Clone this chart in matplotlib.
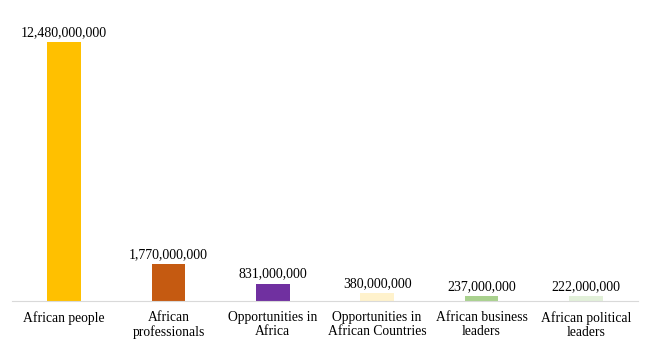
import numpy as np
import matplotlib.pyplot as plt

# chart data
categories = ['African people', 'African\nprofessionals', 'Opportunities in\nAfrica',
              'Opportunities in\nAfrican Countries', 'African business\nleaders',
              'African political\nleaders']
values = [12480000000, 1770000000, 831000000, 380000000, 237000000, 222000000]
colors = ['#FFC000', '#C55A11', '#7030A0', '#FFF2CC', '#A9D18E', '#E2F0D9']

plt.rcParams['font.family'] = ['Liberation Serif', 'DejaVu Serif']

fig = plt.figure(figsize=(6.5, 3.45), dpi=100)
ax = fig.add_axes([12 / 650, 44 / 345, 626 / 650, 290.5 / 345])

x = np.arange(len(categories))
ax.bar(x, values, width=0.32, color=colors)
for xi, v in zip(x, values):
    ax.text(xi, v + 1.5e8, '{:,}'.format(v), ha='center', va='bottom', fontsize=10)

ax.set_xlim(-0.5, len(categories) - 0.5)
ax.set_ylim(0, 14e9)
ax.set_xticks(x)
ax.set_xticklabels(categories, fontsize=9.8, linespacing=1.15)
ax.tick_params(axis='x', length=0, pad=7)
ax.set_yticks([])
for s in ['top', 'right', 'left']:
    ax.spines[s].set_visible(False)
ax.spines['bottom'].set_color('#d9d9d9')

fig.savefig('out.png', dpi=100)
